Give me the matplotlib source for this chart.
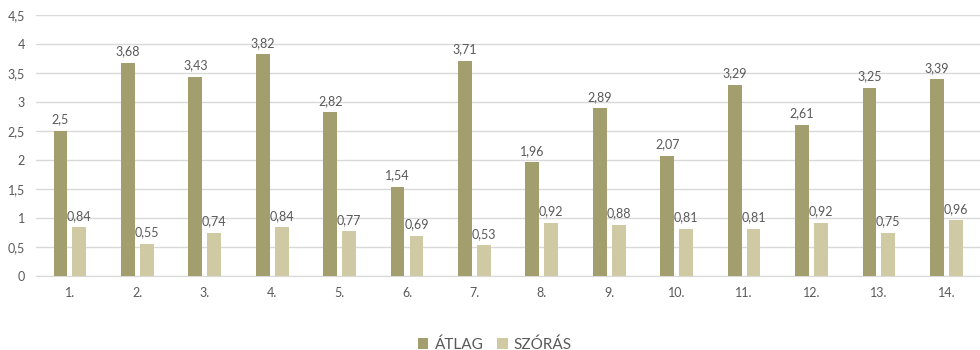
import numpy as np
import matplotlib
matplotlib.use("Agg")
import matplotlib.pyplot as plt

categories = ["1.", "2.", "3.", "4.", "5.", "6.", "7.", "8.", "9.", "10.", "11.", "12.", "13.", "14."]
atlag = [2.5, 3.68, 3.43, 3.82, 2.82, 1.54, 3.71, 1.96, 2.89, 2.07, 3.29, 2.61, 3.25, 3.39]
szoras = [0.84, 0.55, 0.74, 0.84, 0.77, 0.69, 0.53, 0.92, 0.88, 0.81, 0.81, 0.92, 0.75, 0.96]
yticks = [0, 0.5, 1, 1.5, 2, 2.5, 3, 3.5, 4, 4.5]

DARK = "#A39E6E"
LIGHT = "#CFCAA3"
TEXT = "#595959"

plt.rcParams["font.family"] = ["Lato", "DejaVu Sans"]


def fmt(v):
    s = f"{v:.2f}".rstrip("0").rstrip(".")
    return s.replace(".", ",")


fig = plt.figure(figsize=(9.8, 3.5), dpi=100)
ax = fig.add_axes([0.037, 0.2114, 0.963, 0.7457])

x = np.arange(len(categories))
w = 0.205
off = 0.14
b1 = ax.bar(x - off, atlag, w, color=DARK, label="ÁTLAG", zorder=3)
b2 = ax.bar(x + off, szoras, w, color=LIGHT, label="SZÓRÁS", zorder=3)

for bars, vals in ((b1, atlag), (b2, szoras)):
    for r, v in zip(bars, vals):
        ax.annotate(fmt(v), (r.get_x() + r.get_width() / 2, v),
                    xytext=(0, 4), textcoords="offset points",
                    ha="center", va="bottom", fontsize=9, color=TEXT)

ax.set_xlim(-0.5, len(categories) - 0.5)
ax.set_ylim(0, 4.5)
ax.set_yticks(yticks)
ax.set_yticklabels([fmt(t) for t in yticks])
ax.set_xticks(x)
ax.set_xticklabels(categories)
ax.tick_params(axis="both", length=0, labelsize=9, labelcolor=TEXT)
ax.tick_params(axis="x", pad=8)
ax.tick_params(axis="y", pad=8)
ax.grid(axis="y", color="#D9D9D9", linewidth=1, zorder=0)
for s in ("top", "right", "left"):
    ax.spines[s].set_visible(False)
ax.spines["bottom"].set_color("#D9D9D9")

fig.legend(handles=[b1, b2], loc="center", bbox_to_anchor=(0.505, 0.016),
           ncol=2, frameon=False, fontsize=11, handlelength=0.7,
           handleheight=0.7, handletextpad=0.4, columnspacing=0.9,
           labelcolor=TEXT)

fig.savefig("out.png", dpi=100)
